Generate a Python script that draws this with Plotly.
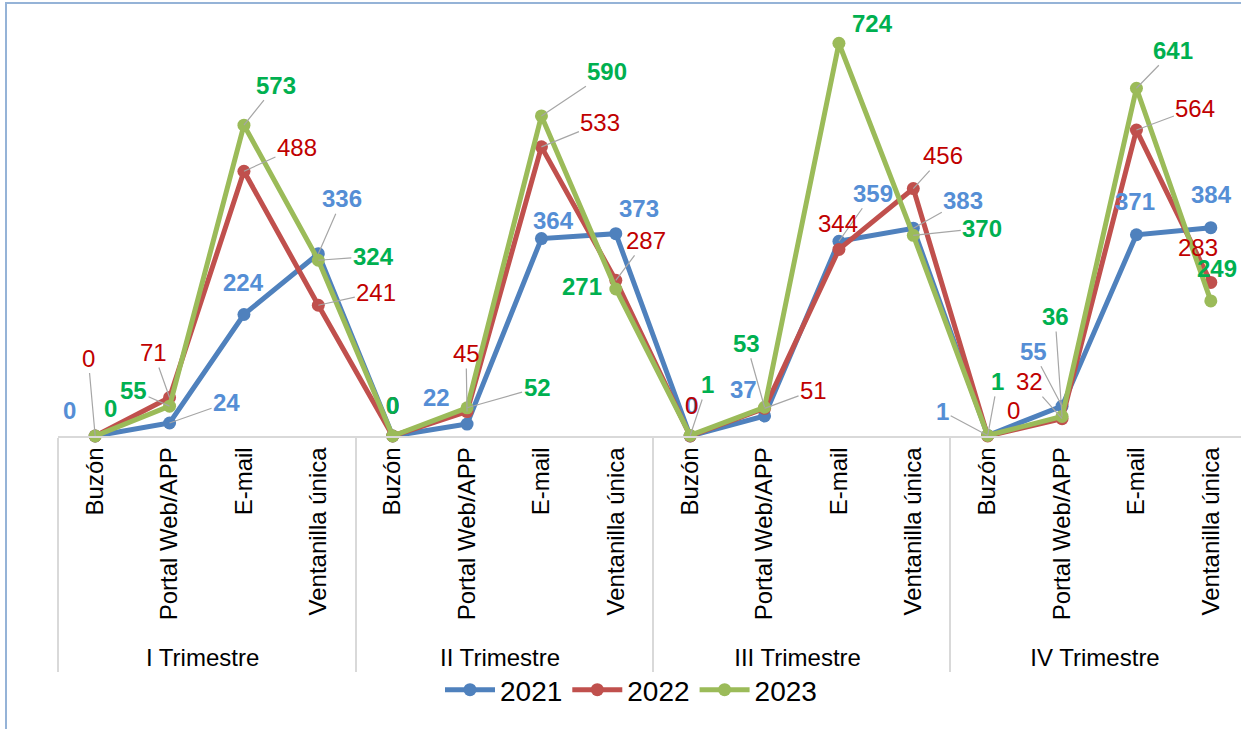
import plotly.graph_objects as go

quarters = ["I Trimestre", "II Trimestre", "III Trimestre", "IV Trimestre"]
channels = ["Buzón", "Portal Web/APP", "E-mail", "Ventanilla única"]

years = ["2021", "2022", "2023"]
v2021 = [0, 24, 224, 336, 0, 22, 364, 373, 0, 37, 359, 383, 1, 55, 371, 384]
v2022 = [0, 71, 488, 241, 0, 45, 533, 287, 0, 51, 344, 456, 0, 32, 564, 283]
v2023 = [0, 55, 573, 324, 0, 52, 590, 271, 1, 53, 724, 370, 1, 36, 641, 249]

# label placement (pixel offsets from point, leader line flag)
off2021 = [(-26, -26, 0), (57, -20, 1), (0, -32, 0), (24, -55, 1),
           (0, -31, 0), (-31, -27, 0), (12, -18, 0), (23, -25, 0),
           (1, -31, 0), (-21, -26, 0), (34, -48, 1), (50, -28, 1),
           (-45, -24, 1), (-29, -55, 1), (-1, -33, 0), (1, -33, 0)]
off2022 = [(-7, -78, 1), (-16, -45, 1), (53, -24, 1), (58, -13, 1),
           (0, -31, 0), (-1, -58, 1), (59, -24, 1), (30, -40, 1),
           (1, -31, 0), (49, -18, 1), (-1, -26, 0), (30, -33, 1),
           (26, -26, 0), (-33, -37, 1), (59, -22, 1), (-13, -35, 0)]
off2023 = [(15, -28, 0), (-36, -16, 1), (32, -40, 1), (55, -4, 1),
           (0, -31, 0), (70, -20, 1), (66, -44, 1), (-34, -2, 0),
           (17, -51, 1), (-18, -64, 1), (34, -20, 0), (69, -7, 1),
           (10, -54, 1), (-7, -100, 1), (37, -38, 1), (6, -32, 0)]

line_colors = ["#4F81BD", "#C0504D", "#9BBB59"]
label_colors = ["#558ED5", "#C00000", "#00B050"]
label_bold = [True, False, True]
FONT = "Arial, Liberation Sans, sans-serif"

xq = [q for q in quarters for _ in channels]
xc = [c for _ in quarters for c in channels]

fig = go.Figure()
series = [v2021, v2022, v2023]
offsets = [off2021, off2022, off2023]
for name, vals, col in zip(years, series, line_colors):
    fig.add_trace(go.Scatter(
        x=[xq, xc], y=vals, name=name, mode="lines+markers",
        line=dict(color=col, width=5),
        marker=dict(color=col, size=13),
        cliponaxis=False,
    ))

annotations = []
for vals, offs, lc, bold in zip(series, offsets, label_colors, label_bold):
    for i, (v, (dx, dy, lead)) in enumerate(zip(vals, offs)):
        txt = f"<b>{v}</b>" if bold else str(v)
        base = dict(x=i, y=v, xref="x", yref="y", text=txt,
                    font=dict(family=FONT, size=24, color=lc))
        if lead:
            base.update(showarrow=True, ax=dx, ay=dy, arrowhead=0,
                        arrowwidth=1.2, arrowcolor="#A6A6A6",
                        standoff=0, startstandoff=0)
        else:
            base.update(showarrow=False, xshift=dx, yshift=-dy)
        annotations.append(base)

W, H = 1241, 729
L, T, B = 58, 2, 293
ph = H - T - B
pw = W - L

fig.update_layout(
    width=W, height=H,
    margin=dict(l=L, r=0, t=T, b=B),
    paper_bgcolor="white", plot_bgcolor="white",
    font=dict(family=FONT, color="black"),
    annotations=annotations,
    showlegend=True,
    legend=dict(orientation="h", x=(631 - L) / pw, xanchor="center",
                y=(436 - 690) / ph, yanchor="middle",
                font=dict(family=FONT, size=28, color="black"),
                itemwidth=50, bgcolor="rgba(0,0,0,0)"),
    xaxis=dict(type="multicategory", range=[-0.5, 15.406],
               showline=True, linecolor="#D9D9D9", linewidth=1.5,
               showgrid=False, zeroline=False,
               ticks="outside", ticklen=24, tickcolor="rgba(0,0,0,0)",
               tickangle=-90,
               tickfont=dict(family=FONT, size=24, color="black"),
               showdividers=True, dividercolor="#D9D9D9", dividerwidth=1.5),
    yaxis=dict(range=[0, 800], showgrid=False, zeroline=False,
               showticklabels=False, showline=False),
    shapes=[dict(type="rect", xref="paper", yref="paper",
                 x0=(6 - L) / pw, x1=(W + 20 - L) / pw,
                 y0=(436 - H - 20) / ph, y1=(436 - 3) / ph,
                 line=dict(color="#95B3D7", width=2),
                 fillcolor="rgba(0,0,0,0)", layer="below")],
)

fig.write_html("out.html")
